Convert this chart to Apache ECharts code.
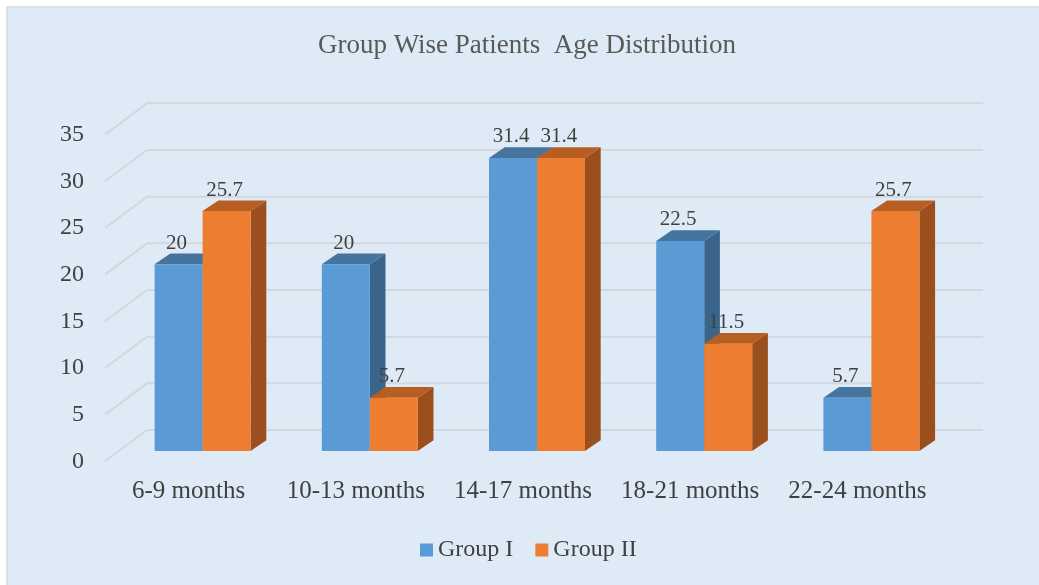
<!DOCTYPE html>
<html>
<head>
<meta charset="utf-8">
<title>Group Wise Patients Age Distribution</title>
<script src="https://cdn.jsdelivr.net/npm/echarts@6/dist/echarts.min.js"></script>
<style>
  html, body { margin: 0; padding: 0; background: #DEEBF7; overflow: hidden; }
  #chart { width: 1039px; height: 585px; }
</style>
</head>
<body>
<div id="chart"></div>
<script>
// Chart data
const categories = ['6-9 months', '10-13 months', '14-17 months', '18-21 months', '22-24 months'];
const groupI = [20, 20, 31.4, 22.5, 5.7];
const groupII = [25.7, 5.7, 31.4, 11.5, 25.7];
const yTicks = [0, 5, 10, 15, 20, 25, 30, 35];
const seriesNames = ['Group I', 'Group II'];

// Styling
const FONT = "'Liberation Serif', 'Times New Roman', serif";
const TEXT = '#404040';
const GRID_LINE = '#d4d7db';
const WALL_DX = 42, WALL_DY = -31.3;     // floor depth (front edge -> back wall)
const BAR_DX = 15.7, BAR_DY = -10.7;     // bar depth
const BAR_RATIO = 0.287;                 // bar width as a share of the category band
const palettes = [
  { front: '#5B9BD5', top: '#45749F', side: '#3A6489' },
  { front: '#ED7D31', top: '#B75E22', side: '#9A4F1D' }
];

const chart = echarts.init(document.getElementById('chart'), null, { renderer: 'canvas' });

// Back wall + floor gridlines, drawn from the front-plane value axis
function renderGridLine(params, api) {
  const cs = params.coordSys;
  const y = api.coord([0, api.value(1)])[1];
  const xl = cs.x, xr = cs.x + cs.width;
  return {
    type: 'polyline',
    shape: { points: [[xl, y], [xl + WALL_DX, y + WALL_DY], [xr + WALL_DX, y + WALL_DY]] },
    style: { stroke: GRID_LINE, lineWidth: 2, fill: null },
    silent: true
  };
}

// 3D column: side face, top face, front face and value label
function makeBarRenderer(seriesIdx) {
  const pal = palettes[seriesIdx];
  return function (params, api) {
    const cat = api.value(0);
    const v = api.value(1);
    const base = api.coord([cat, 0]);
    const top = api.coord([cat, v]);
    const w = api.size([1, 0])[0] * BAR_RATIO;
    const x0 = base[0] - w + seriesIdx * w;
    const x1 = x0 + w;
    const yb = base[1], yt = top[1];
    return {
      type: 'group',
      children: [
        { type: 'polygon', shape: { points: [[x1, yb], [x1 + BAR_DX, yb + BAR_DY], [x1 + BAR_DX, yt + BAR_DY], [x1, yt]] },
          style: { fill: pal.side } },
        { type: 'polygon', shape: { points: [[x0, yt], [x0 + BAR_DX, yt + BAR_DY], [x1 + BAR_DX, yt + BAR_DY], [x1, yt]] },
          style: { fill: pal.top } },
        { type: 'rect', shape: { x: x0, y: yt, width: w, height: yb - yt },
          style: { fill: pal.front } },
        { type: 'text', z2: 100,
          style: { x: x0 + w / 2 - 2, y: yt - 21, text: String(v), align: 'center', verticalAlign: 'middle',
                   fill: TEXT, font: '21px ' + FONT } }
      ]
    };
  };
}

const option = {
  animation: false,
  backgroundColor: 'transparent',
  graphic: [
    // white page margin, then the chart area with its top/left border
    { type: 'rect', z: -11, silent: true,
      shape: { x: 0, y: 0, width: 2000, height: 2000 },
      style: { fill: '#ffffff' } },
    { type: 'rect', z: -10, silent: true,
      shape: { x: 7, y: 7, width: 2000, height: 2000 },
      style: { fill: '#DEEBF7' } },
    { type: 'polyline', z: -9, silent: true,
      shape: { points: [[7, 1100], [7, 7], [1100, 7]] },
      style: { stroke: '#D9D9D9', lineWidth: 1.5, fill: null } }
  ],
  title: {
    text: 'Group Wise Patients  Age Distribution',
    left: 527, top: 32, textAlign: 'center', padding: 0,
    textStyle: { fontFamily: FONT, fontSize: 27, fontWeight: 'normal', color: '#595959' }
  },
  legend: {
    data: seriesNames,
    left: 420, top: 538, padding: 0,
    itemWidth: 13, itemHeight: 13, itemGap: 22, icon: 'rect',
    textStyle: { fontFamily: FONT, fontSize: 24, color: TEXT }
  },
  grid: [
    // front edge of the floor (axis labels)
    { left: 105, right: 98, top: 134.6, bottom: 123.7 },
    // plane of the column fronts
    { left: 119, right: 84, top: 124.3, bottom: 134 }
  ],
  xAxis: [
    { gridIndex: 0, type: 'category', data: categories,
      axisLine: { show: false }, axisTick: { show: false }, splitLine: { show: false },
      axisLabel: { interval: 0, margin: 18, fontFamily: FONT, fontSize: 25, color: TEXT, lineHeight: 25 } },
    { gridIndex: 1, type: 'category', data: categories, show: false }
  ],
  yAxis: [
    { gridIndex: 0, type: 'value', min: 0, max: 35, interval: 5,
      axisLine: { show: false }, axisTick: { show: false }, splitLine: { show: false },
      axisLabel: { margin: 21, fontFamily: FONT, fontSize: 24, color: TEXT } },
    { gridIndex: 1, type: 'value', min: 0, max: 35, interval: 5, show: false, splitLine: { show: false } }
  ],
  series: [
    { type: 'custom', name: 'gridlines', xAxisIndex: 0, yAxisIndex: 0, silent: true, z: 1,
      renderItem: renderGridLine, data: yTicks.map(v => [0, v]), encode: { x: 0, y: 1 } },
    { type: 'custom', name: seriesNames[0], xAxisIndex: 1, yAxisIndex: 1,
      itemStyle: { color: palettes[0].front },
      renderItem: makeBarRenderer(0), data: groupI.map((v, i) => [i, v]), encode: { x: 0, y: 1 } },
    { type: 'custom', name: seriesNames[1], xAxisIndex: 1, yAxisIndex: 1,
      itemStyle: { color: palettes[1].front },
      renderItem: makeBarRenderer(1), data: groupII.map((v, i) => [i, v]), encode: { x: 0, y: 1 } }
  ]
};

chart.setOption(option);
</script>
</body>
</html>
